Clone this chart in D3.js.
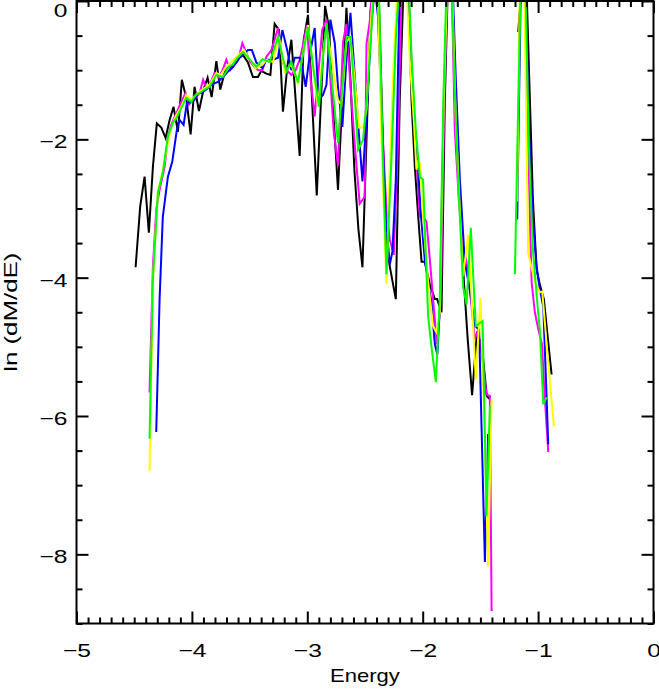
<!DOCTYPE html>
<html>
<head>
<meta charset="utf-8">
<script src="https://cdn.jsdelivr.net/npm/d3@7"></script>
<style>
  html, body { margin: 0; padding: 0; background: #fff; }
  svg text { font-family: "Liberation Sans", Arial, sans-serif; }
</style>
</head>
<body>
<svg id="chart" width="659" height="689"></svg>
<script>
// ---------------- data (Energy, ln(dM/dE)); null = gap ----------------
const blackSeries = [[-4.488,-3.85],[-4.448,-2.97],[-4.410,-2.54],[-4.373,-3.35],[-4.338,-2.40],[-4.304,-1.77],[-4.265,-1.83],[-4.228,-1.98],[-4.193,-1.72],[-4.159,-1.53],[-4.121,-1.89],[-4.087,-1.14],[-4.049,-1.40],[-4.011,-1.93],[-3.977,-1.24],[-3.939,-1.59],[-3.899,-1.28],[-3.864,-1.11],[-3.829,-1.39],[-3.788,-0.87],[-3.754,-1.28],[-3.703,-0.95],[-3.669,-0.97],[-3.630,-0.89],[-3.592,-0.82],[-3.558,-0.78],[-3.514,-0.89],[-3.471,-1.10],[-3.428,-1.10],[-3.398,-1.01],[-3.355,-1.05],[-3.320,-1.07],[-3.283,-0.33],[-3.245,-0.42],[-3.211,-1.60],[-3.173,-0.95],[-3.138,-0.56],[-3.101,-1.43],[-3.066,-2.24],[-3.031,-0.56],[-2.994,-0.20],[-2.956,-1.53],[-2.918,-2.81],[-2.884,-1.53],[-2.846,-0.07],[-2.812,-0.38],[-2.776,-1.57],[-2.734,-2.73],[-2.697,-1.43],[-2.661,-0.10],[-2.626,-1.14],[-2.592,-2.44],[-2.557,-3.30],[-2.522,-3.85],[-2.487,-2.01],[-2.452,-0.15],[-2.418,0.40],[-2.383,0.20],[-2.350,-1.72],[-2.320,-3.38],[-2.285,-3.84],[-2.233,-4.31],[-2.199,-1.43],[-2.164,0.30],[-2.129,0.50],[-2.097,-1.43],[-2.068,-2.40],[-2.040,-3.09],[-2.010,-3.77],[-1.982,-3.77],[-1.938,-4.10],[-1.895,-4.31],[-1.875,-4.31],[-1.837,-4.50],[-1.808,-1.43],[-1.778,0.50],[-1.748,0.30],[-1.713,-1.43],[-1.678,-2.87],[-1.644,-4.03],[-1.610,-4.89],[-1.572,-5.70],[-1.531,-4.82],[-1.489,-4.96],[-1.445,-5.71],[-1.418,-5.76],null,[-1.172,-0.45],[-1.140,0.30],[-1.106,0.50],[-1.071,-1.43],[-1.045,-2.87],[-1.013,-3.88],[-0.985,-4.10],[-0.950,-4.31],[-0.915,-4.89],[-0.883,-5.40]];

const magentaSeries = [[-4.367,-5.66],[-4.338,-3.84],[-4.309,-3.02],[-4.280,-2.73],[-4.237,-2.40],[-4.208,-1.96],[-4.179,-1.79],[-4.135,-1.62],[-4.092,-1.46],[-4.055,-1.33],[-4.026,-1.50],[-3.991,-1.43],[-3.959,-1.39],[-3.933,-1.33],[-3.903,-1.14],[-3.875,-1.26],[-3.847,-1.21],[-3.803,-1.04],[-3.768,-1.10],[-3.734,-1.00],[-3.702,-0.85],[-3.669,-1.00],[-3.634,-0.92],[-3.599,-0.85],[-3.563,-0.61],[-3.528,-0.75],[-3.494,-0.88],[-3.459,-0.95],[-3.424,-1.00],[-3.389,-1.00],[-3.355,-0.81],[-3.311,-0.71],[-3.283,-0.56],[-3.254,-0.39],[-3.213,-0.89],[-3.167,-1.02],[-3.138,-1.07],[-3.101,-1.00],[-3.066,-0.85],[-3.036,-0.63],[-3.003,-0.35],[-2.971,-1.14],[-2.936,-1.67],[-2.902,-1.00],[-2.871,-0.42],[-2.834,-0.27],[-2.800,-1.14],[-2.771,-1.89],[-2.734,-2.38],[-2.690,-0.59],[-2.661,-0.33],[-2.624,-1.28],[-2.585,-2.15],[-2.546,-2.93],[-2.502,-2.83],[-2.487,-0.62],[-2.459,-0.30],[-2.424,0.50],[-2.390,0.30],[-2.350,-1.86],[-2.314,-3.02],[-2.285,-3.45],[-2.251,-3.67],[-2.213,-2.01],[-2.181,0.30],[-2.146,0.60],[-2.112,-0.27],[-2.086,-1.43],[-2.054,-2.29],[-2.025,-3.12],[-1.997,-3.12],[-1.967,-3.19],[-1.938,-3.74],[-1.910,-4.31],[-1.877,-4.96],[-1.843,-4.31],[-1.813,-1.43],[-1.782,0.50],[-1.748,0.20],[-1.722,-1.86],[-1.687,-2.87],[-1.653,-3.52],[-1.620,-3.77],[-1.583,-4.31],[-1.548,-4.89],[-1.520,-4.75],[-1.483,-5.18],[-1.447,-5.69],[-1.418,-5.71],[-1.403,-8.82],null,[-1.163,-0.60],[-1.149,0.40],[-1.114,0.60],[-1.086,-2.15],[-1.056,-4.07],[-1.028,-4.50],[-0.998,-4.75],[-0.967,-4.96],[-0.941,-5.76],[-0.912,-6.52]];

const blueSeries = [[-4.309,-6.23],[-4.280,-4.31],[-4.252,-3.12],[-4.208,-2.54],[-4.170,-2.32],[-4.130,-1.86],[-4.107,-1.72],[-4.072,-1.79],[-4.043,-1.47],[-4.005,-1.46],[-3.977,-1.43],[-3.948,-1.33],[-3.918,-1.33],[-3.875,-1.28],[-3.829,-1.21],[-3.775,-1.17],[-3.731,-1.10],[-3.688,-1.02],[-3.651,-0.97],[-3.615,-0.89],[-3.586,-0.82],[-3.558,-0.78],[-3.514,-0.71],[-3.480,-0.71],[-3.441,-0.89],[-3.389,-0.97],[-3.355,-0.85],[-3.326,-0.85],[-3.297,-0.85],[-3.254,-0.82],[-3.216,-0.42],[-3.181,-0.66],[-3.138,-1.00],[-3.109,-0.82],[-3.066,-0.82],[-3.040,-1.00],[-3.014,-1.24],[-2.979,-0.78],[-2.936,-0.39],[-2.902,-1.43],[-2.864,-1.36],[-2.834,-1.21],[-2.800,-0.27],[-2.762,-0.61],[-2.732,-1.28],[-2.696,-1.82],[-2.661,-0.85],[-2.626,-0.17],[-2.604,-0.71],[-2.562,-1.72],[-2.522,-2.61],[-2.487,-1.67],[-2.444,-0.32],[-2.415,0.20],[-2.387,-0.23],[-2.354,-1.72],[-2.320,-3.16],[-2.285,-3.81],[-2.262,-3.62],[-2.233,-2.58],[-2.199,0.20],[-2.164,0.70],[-2.129,0.40],[-2.095,-1.14],[-2.068,-2.01],[-2.040,-2.40],[-2.016,-3.09],[-1.982,-3.74],[-1.924,-4.36],[-1.895,-4.96],[-1.873,-5.11],[-1.852,-4.46],[-1.817,-1.43],[-1.782,0.40],[-1.748,0.60],[-1.713,-1.14],[-1.678,-2.58],[-1.635,-3.78],[-1.592,-4.17],[-1.548,-4.70],[-1.511,-4.75],[-1.461,-8.11],[-1.433,-6.26],[-1.414,-6.41],null,[-1.181,-3.16],[-1.149,0.30],[-1.114,0.50],[-1.079,-1.86],[-1.045,-3.16],[-1.013,-3.84],[-0.985,-4.17],[-0.955,-4.42],[-0.932,-5.47],[-0.912,-6.41]];

const yellowSeries = [[-4.367,-6.80],[-4.338,-4.03],[-4.295,-2.77],[-4.252,-2.44],[-4.219,-2.15],[-4.193,-1.93],[-4.165,-1.76],[-4.135,-1.65],[-4.107,-1.57],[-4.076,-1.47],[-4.049,-1.36],[-4.005,-1.43],[-3.968,-1.36],[-3.933,-1.31],[-3.890,-1.26],[-3.847,-1.21],[-3.788,-1.04],[-3.751,-1.07],[-3.702,-0.95],[-3.664,-0.89],[-3.621,-0.82],[-3.572,-0.74],[-3.547,-0.71],[-3.514,-0.81],[-3.482,-0.88],[-3.448,-0.97],[-3.389,-0.92],[-3.355,-0.85],[-3.297,-0.88],[-3.245,-0.52],[-3.196,-1.02],[-3.138,-0.92],[-3.081,-1.18],[-3.040,-0.78],[-2.994,-0.35],[-2.953,-0.92],[-2.907,-1.53],[-2.871,-0.85],[-2.834,-0.38],[-2.788,-0.85],[-2.736,-1.43],[-2.704,-1.50],[-2.661,-0.59],[-2.626,-0.52],[-2.589,-1.14],[-2.552,-1.83],[-2.517,-1.83],[-2.487,-1.57],[-2.459,-0.56],[-2.424,0.30],[-2.390,0.20],[-2.354,-2.15],[-2.314,-4.10],[-2.285,-2.40],[-2.251,-0.85],[-2.216,0.30],[-2.181,0.70],[-2.146,0.50],[-2.112,-0.85],[-2.077,-1.72],[-2.054,-2.44],[-2.040,-2.32],[-2.025,-2.34],[-1.989,-3.30],[-1.955,-4.03],[-1.910,-4.70],[-1.880,-4.79],[-1.852,-4.50],[-1.817,-1.43],[-1.782,0.50],[-1.748,0.40],[-1.713,-1.72],[-1.678,-3.02],[-1.650,-3.98],[-1.606,-3.38],[-1.563,-4.70],[-1.540,-5.47],[-1.499,-4.29],[-1.471,-5.76],[-1.433,-8.17],[-1.403,-5.76],null,[-1.181,-2.90],[-1.158,0.30],[-1.123,0.60],[-1.086,-3.64],[-1.054,-3.88],[-1.019,-4.10],[-0.985,-4.21],[-0.964,-4.20],[-0.915,-5.18],[-0.863,-6.15]];

const greenSeries = [[-4.367,-6.33],[-4.338,-4.03],[-4.295,-2.77],[-4.252,-2.48],[-4.208,-1.96],[-4.165,-1.76],[-4.132,-1.69],[-4.107,-1.60],[-4.049,-1.40],[-4.005,-1.46],[-3.968,-1.36],[-3.933,-1.33],[-3.890,-1.28],[-3.847,-1.24],[-3.788,-1.07],[-3.731,-1.10],[-3.679,-0.95],[-3.647,-0.92],[-3.604,-0.82],[-3.558,-0.74],[-3.518,-0.81],[-3.482,-0.88],[-3.441,-0.95],[-3.389,-0.84],[-3.326,-0.88],[-3.291,-0.71],[-3.254,-0.52],[-3.218,-0.78],[-3.181,-1.02],[-3.138,-0.88],[-3.081,-1.18],[-3.040,-0.78],[-2.994,-0.38],[-2.945,-1.00],[-2.898,-1.53],[-2.866,-0.85],[-2.834,-0.32],[-2.788,-1.14],[-2.734,-2.05],[-2.697,-1.28],[-2.661,-0.52],[-2.626,-0.52],[-2.593,-1.28],[-2.560,-2.15],[-2.517,-2.01],[-2.484,-1.43],[-2.450,-0.56],[-2.415,0.40],[-2.380,0.20],[-2.345,-2.29],[-2.314,-3.95],[-2.271,-2.29],[-2.233,-0.56],[-2.199,0.40],[-2.164,0.60],[-2.129,0.50],[-2.095,-0.85],[-2.060,-1.86],[-2.025,-2.54],[-1.997,-2.58],[-1.953,-4.56],[-1.921,-5.04],[-1.886,-5.51],[-1.852,-4.31],[-1.821,-1.43],[-1.791,0.40],[-1.756,0.60],[-1.722,-1.28],[-1.693,-2.58],[-1.650,-4.13],[-1.620,-4.39],[-1.583,-3.28],[-1.540,-4.70],[-1.481,-4.63],[-1.447,-7.45],[-1.418,-5.86],null,[-1.201,-3.95],[-1.175,-1.72],[-1.149,0.40],[-1.114,0.50],[-1.079,-2.15],[-1.045,-3.59],[-1.010,-4.31],[-0.985,-4.75],[-0.955,-5.83],[-0.926,-5.73]];

const seriesList = [
  { name: "black",   color: "#000000", data: blackSeries },
  { name: "magenta", color: "#ff00ff", data: magentaSeries },
  { name: "blue",    color: "#0000ff", data: blueSeries },
  { name: "yellow",  color: "#ffff00", data: yellowSeries },
  { name: "green",   color: "#00ff00", data: greenSeries }
];

const xDomain = [-5, 0];
const yDomain = [-9, 0];
const xMajorTicks = [-5, -4, -3, -2, -1, 0];
const yMajorTicks = [-8, -6, -4, -2, 0];
const xTitle = "Energy";
const yTitle = "ln (dM/dE)";

// ---------------- layout ----------------
const svg = d3.select("#chart");
const L = 76.5, R = 653.5, T = 1, B = 623.5;
const FS = 18.5;          // label font size
const STRETCH = 1.33;     // horizontal glyph stretch of the reference font

const x = d3.scaleLinear().domain(xDomain).range([L, R]);
const y = d3.scaleLinear().domain(yDomain).range([B, T]);

const xMinor = d3.range(-50, 1).map(d => d / 10).filter(d => !xMajorTicks.includes(d));
const yMinor = d3.range(-18, 1).map(d => d / 2).filter(d => !yMajorTicks.includes(d));

svg.append("rect").attr("width", 659).attr("height", 689).attr("fill", "#fff");

svg.append("defs").append("clipPath").attr("id", "clip")
  .append("rect").attr("x", L).attr("y", T).attr("width", R - L).attr("height", B - T);

// lines
const line = d3.line()
  .defined(d => d !== null)
  .x(d => x(d[0]))
  .y(d => y(d[1]));

const g = svg.append("g").attr("clip-path", "url(#clip)");
seriesList.forEach(s => {
  g.append("path")
    .datum(s.data)
    .attr("fill", "none")
    .attr("stroke", s.color)
    .attr("stroke-width", 2)
    .attr("d", line);
});

// axes (ticks pointing inward)
function styleAxis(sel) {
  sel.select(".domain").remove();
  sel.selectAll(".tick line").attr("stroke", "#000").attr("stroke-width", 2);
}
function stretchText(sel, factor) {
  sel.each(function() {
    const w = this.getComputedTextLength();
    d3.select(this).attr("textLength", w * factor).attr("lengthAdjust", "spacingAndGlyphs");
  });
}
const MAJ = 12, MIN = 6;

svg.append("g").attr("transform", `translate(0,${B})`)
  .call(d3.axisBottom(x).tickValues(xMinor).tickSize(-MIN).tickFormat(""))
  .call(styleAxis);
const xb = svg.append("g").attr("transform", `translate(0,${B})`)
  .call(d3.axisBottom(x).tickValues(xMajorTicks).tickSize(-MAJ).tickFormat(d3.format("d")))
  .call(styleAxis);
xb.selectAll(".tick text")
  .attr("font-size", FS).attr("fill", "#000")
  .attr("font-family", "Liberation Sans, Arial, sans-serif")
  .attr("y", 33).attr("dy", 0)
  .call(stretchText, STRETCH);

svg.append("g").attr("transform", `translate(0,${T})`)
  .call(d3.axisTop(x).tickValues(xMinor).tickSize(-MIN).tickFormat(""))
  .call(styleAxis);
svg.append("g").attr("transform", `translate(0,${T})`)
  .call(d3.axisTop(x).tickValues(xMajorTicks).tickSize(-MAJ).tickFormat(""))
  .call(styleAxis);

svg.append("g").attr("transform", `translate(${L},0)`)
  .call(d3.axisLeft(y).tickValues(yMinor).tickSize(-MIN).tickFormat(""))
  .call(styleAxis);
const yl = svg.append("g").attr("transform", `translate(${L},0)`)
  .call(d3.axisLeft(y).tickValues(yMajorTicks).tickSize(-MAJ).tickFormat(d3.format("d")))
  .call(styleAxis);
yl.selectAll(".tick text")
  .attr("font-size", FS).attr("fill", "#000")
  .attr("font-family", "Liberation Sans, Arial, sans-serif")
  .attr("x", -9)
  .attr("dy", 0)
  .attr("y", d => (d === 0 ? 15.5 : 8.5))
  .call(stretchText, STRETCH);

svg.append("g").attr("transform", `translate(${R},0)`)
  .call(d3.axisRight(y).tickValues(yMinor).tickSize(-MIN).tickFormat(""))
  .call(styleAxis);
svg.append("g").attr("transform", `translate(${R},0)`)
  .call(d3.axisRight(y).tickValues(yMajorTicks).tickSize(-MAJ).tickFormat(""))
  .call(styleAxis);

// frame
svg.append("rect").attr("x", L).attr("y", T).attr("width", R - L).attr("height", B - T)
  .attr("fill", "none").attr("stroke", "#000").attr("stroke-width", 2);

// titles
svg.append("text").attr("x", (L + R) / 2).attr("y", 682)
  .attr("text-anchor", "middle").attr("font-size", FS).attr("fill", "#000")
  .text(xTitle)
  .call(stretchText, 1.19);
svg.append("text")
  .attr("transform", `translate(17,${(T + B) / 2}) rotate(-90)`)
  .attr("text-anchor", "middle").attr("font-size", 19).attr("fill", "#000")
  .text(yTitle)
  .call(stretchText, 1.36);
</script>
</body>
</html>
